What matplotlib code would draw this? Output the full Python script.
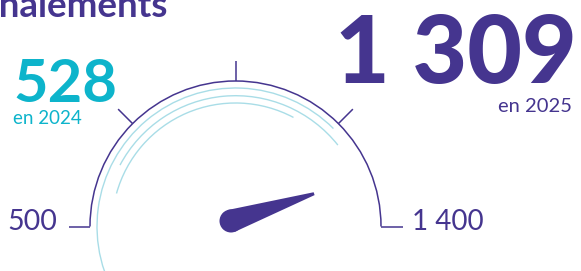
import numpy as np
import matplotlib
matplotlib.use("Agg")
import matplotlib.pyplot as plt
from matplotlib.patches import Arc, Polygon, Circle

# ---- data ----
title = "Signalements"
gauge_min = 500
gauge_max = 1400
gauge_ticks = [500, 725, 950, 1175, 1400]
gauge_tick_labels = ["500", "1 400"]
value_2024 = 528
value_2025 = 1309
label_2024 = "en 2024"
label_2025 = "en 2025"

# ---- style ----
PURPLE = "#45358f"
CYAN = "#0db4cb"
LIGHT = "#a9dde7"
FONT = ["Lato", "DejaVu Sans"]

W, H = 581, 271
fig = plt.figure(figsize=(W / 100, H / 100), dpi=100)
ax = fig.add_axes([0, 0, 1, 1])
ax.set_xlim(0, W)
ax.set_ylim(0, H)
ax.set_aspect("equal")
ax.axis("off")

def py(y):  # pixel-from-top to data
    return H - y

cx, cy = 235.5, py(226.5)
R = 145.5

def val2ang(v):
    return 180.0 * (1 - (v - gauge_min) / (gauge_max - gauge_min))

# main arc
ax.add_patch(Arc((cx, cy), 2 * R, 2 * R, theta1=val2ang(gauge_max), theta2=val2ang(gauge_min),
                 color=PURPLE, lw=1.1))
# light decorative arcs
for r, t1, t2 in [(138.5, 45, 215), (130.8, 38.5, 152), (123.5, 62, 164.5)]:
    ax.add_patch(Arc((cx, cy), 2 * r, 2 * r, theta1=t1, theta2=t2, color=LIGHT, lw=1.0))

# ticks
for t in gauge_ticks:
    a = np.deg2rad(val2ang(t))
    if t in (gauge_min, gauge_max):
        sgn = -1 if t == gauge_min else 1
        x0 = cx + sgn * R
        ax.plot([x0, x0 + sgn * 21.5], [cy, cy], color=PURPLE, lw=1.1, solid_capstyle="butt")
    else:
        ax.plot([cx + R * np.cos(a), cx + 166 * np.cos(a)],
                [cy + R * np.sin(a), cy + 166 * np.sin(a)], color=PURPLE, lw=1.1,
                solid_capstyle="butt")

# needle
px, pyv = 231.0, py(221)
r0, r1, L = 11.5, 1.5, 87.5
a = np.deg2rad(val2ang(value_2025))
ux, uy = np.cos(a), np.sin(a)
nx, ny = -uy, ux
tipx, tipy = px + L * ux, pyv + L * uy
pts = [(px + r0 * nx, pyv + r0 * ny), (tipx + r1 * nx, tipy + r1 * ny),
       (tipx - r1 * nx, tipy - r1 * ny), (px - r0 * nx, pyv - r0 * ny)]
ax.add_patch(Polygon(pts, closed=True, color=PURPLE, lw=0))
ax.add_patch(Circle((px, pyv), r0, color=PURPLE, lw=0))

# labels
ax.text(57, py(230), gauge_tick_labels[0], ha="right", va="baseline", fontsize=20.5,
        color=PURPLE, family=FONT)
ax.text(412, py(229.5), gauge_tick_labels[1], ha="left", va="baseline", fontsize=20,
        color=PURPLE, family=FONT)

ax.text(13, py(102), f"{value_2024}", ha="left", va="baseline", fontsize=43,
        color=CYAN, family=FONT, fontweight="bold")
ax.text(13, py(124), label_2024, ha="left", va="baseline", fontsize=13.5,
        color=CYAN, family=FONT)

ax.text(577, py(83), f"{value_2025:,}".replace(",", " "), ha="right", va="baseline",
        fontsize=68, color=PURPLE, family=FONT, fontweight="black")
ax.text(572, py(112), label_2025, ha="right", va="baseline", fontsize=14.5,
        color=PURPLE, family=FONT)

ax.text(168, py(17), title, ha="right", va="baseline", fontsize=26.5,
        color=PURPLE, family=FONT, fontweight="bold")

fig.savefig("out.png", dpi=100)
